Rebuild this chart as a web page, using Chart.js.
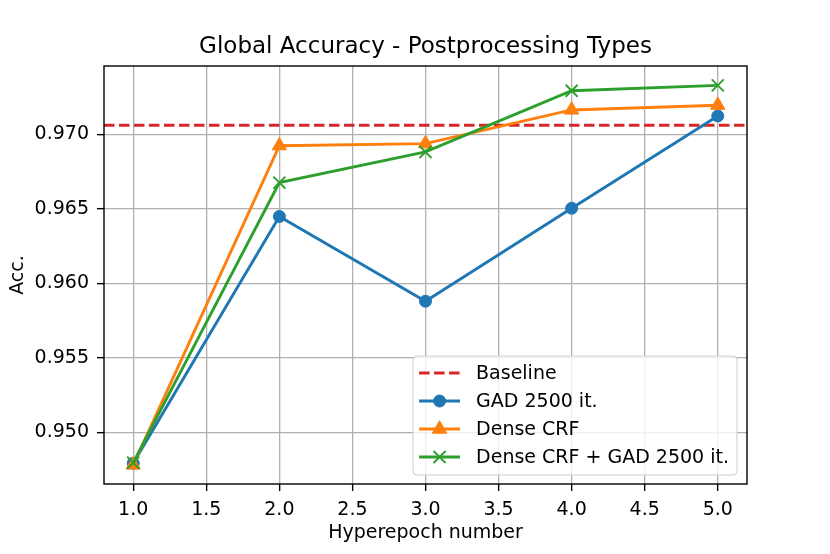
<!DOCTYPE html>
<html>
<head>
<meta charset="utf-8">
<script src="https://cdn.jsdelivr.net/npm/chart.js@4.4.1/dist/chart.umd.min.js"></script>
<style>
  html, body { margin: 0; padding: 0; background: #fff; }
  #wrap { width: 830px; height: 554px; }
</style>
</head>
<body>
<div id="wrap"><canvas id="acc-chart" width="830" height="554"></canvas></div>
<script>
// Values
const hyperepochs = [1, 2, 3, 4, 5];
const baselineAcc = 0.97060;
const gadAcc = [0.94791, 0.96448, 0.95879, 0.96503, 0.97123];
const denseCrfAcc = [0.94780, 0.96923, 0.96937, 0.97163, 0.97195];
const denseCrfGadAcc = [0.94795, 0.96675, 0.96881, 0.97292, 0.97328];

const X_MIN = 0.8, X_MAX = 5.2;
const Y_MIN = 0.94652, Y_MAX = 0.97458;

const FONT = 'DejaVu Sans';
const TITLE = 'Global Accuracy - Postprocessing Types';

const toPoints = vals => vals.map((v, i) => ({ x: hyperepochs[i], y: v }));

// Title centred over the axes, frame on all four sides, legend inside the axes
const frameAndLegend = {
    id: 'frameAndLegend',
    afterDatasetsDraw(chart) {
        const { ctx, chartArea: a } = chart;
        ctx.save();
        ctx.strokeStyle = '#000';
        ctx.lineWidth = 1.4;
        ctx.strokeRect(a.left, a.top, a.right - a.left, a.bottom - a.top);

        ctx.fillStyle = '#000';
        ctx.font = `23px ${FONT}`;
        ctx.textAlign = 'center';
        ctx.textBaseline = 'middle';
        ctx.fillText(TITLE, (a.left + a.right) / 2, 47);
        ctx.restore();
    },
    afterDraw(chart) {
        const { ctx, chartArea: a } = chart;
        const items = chart.data.datasets;
        ctx.save();
        ctx.font = `19px ${FONT}`;
        const textW = Math.max(...items.map(d => ctx.measureText(d.label).width));
        const rowH = 28;
        const w = 6 + 41 + 16 + textW + 8;
        const h = items.length * rowH + 7;
        const x0 = a.right - 10 - w;
        const y0 = a.bottom - 9 - h;

        ctx.beginPath();
        ctx.roundRect(x0, y0, w, h, 4);
        ctx.fillStyle = 'rgba(255,255,255,0.8)';
        ctx.fill();
        ctx.strokeStyle = '#cccccc';
        ctx.lineWidth = 1;
        ctx.stroke();

        items.forEach((d, i) => {
            const cy = y0 + 17 + i * rowH;
            const lx = x0 + 6;
            ctx.beginPath();
            ctx.setLineDash(d.borderDash || []);
            ctx.strokeStyle = d.borderColor;
            ctx.lineWidth = d.borderWidth;
            ctx.moveTo(lx, cy);
            ctx.lineTo(lx + 41, cy);
            ctx.stroke();
            ctx.setLineDash([]);
            if (d.pointRadius > 0) {
                ctx.fillStyle = d.backgroundColor;
                ctx.strokeStyle = d.borderColor;
                ctx.lineWidth = d.pointBorderWidth;
                Chart.helpers.drawPoint(ctx, {
                    pointStyle: d.pointStyle,
                    radius: d.pointRadius,
                    borderWidth: d.pointBorderWidth,
                    rotation: 0
                }, lx + 20.5, cy);
            }
            ctx.fillStyle = '#000';
            ctx.textBaseline = 'middle';
            ctx.textAlign = 'left';
            ctx.fillText(d.label, lx + 57, cy + 1);
        });
        ctx.restore();
    }
};

const MARKER_RADIUS = { circle: 6, triangle: 8.3, crossRot: 8.5 };

function makeSeries(label, vals, color, style, order) {
    return {
        label,
        data: toPoints(vals),
        borderColor: color,
        backgroundColor: color,
        borderWidth: 2.9,
        pointStyle: style,
        pointRadius: MARKER_RADIUS[style],
        pointHoverRadius: MARKER_RADIUS[style],
        pointBorderWidth: style === 'crossRot' ? 1.9 : 1,
        pointBorderColor: color,
        pointBackgroundColor: color,
        tension: 0,
        order
    };
}

const canvas = document.getElementById('acc-chart');
const ctx = canvas.getContext('2d');

const gridOpts = { color: '#b0b0b0', lineWidth: 1.3, tickColor: '#000', tickWidth: 1.4, tickLength: 7, drawTicks: true };

new Chart(ctx, {
    type: 'line',
    data: {
        datasets: [
            {
                label: 'Baseline',
                data: [{ x: X_MIN, y: baselineAcc }, { x: X_MAX, y: baselineAcc }],
                borderColor: '#d62728',
                backgroundColor: '#d62728',
                borderWidth: 2.9,
                borderDash: [10.5, 4.5],
                pointRadius: 0,
                order: 3
            },
            makeSeries('GAD 2500 it.', gadAcc, '#1f77b4', 'circle', 2),
            makeSeries('Dense CRF', denseCrfAcc, '#ff7f0e', 'triangle', 1),
            makeSeries('Dense CRF + GAD 2500 it.', denseCrfGadAcc, '#2ca02c', 'crossRot', 0)
        ]
    },
    options: {
        responsive: false,
        animation: false,
        devicePixelRatio: 1,
        layout: { padding: { left: 0, right: 83, top: 66, bottom: 0 } },
        plugins: {
            legend: { display: false },
            tooltip: { enabled: false },
            title: { display: false }
        },
        scales: {
            x: {
                type: 'linear',
                min: X_MIN,
                max: X_MAX,
                afterFit: s => { s.height = 70; },
                grid: gridOpts,
                border: { display: false },
                ticks: {
                    stepSize: 0.5,
                    includeBounds: false,
                    color: '#000',
                    padding: 8,
                    maxRotation: 0,
                    font: { family: FONT, size: 19 },
                    callback: v => v.toFixed(1)
                },
                title: {
                    display: true,
                    text: 'Hyperepoch number',
                    color: '#000',
                    font: { family: FONT, size: 19 },
                    padding: { top: 0, bottom: 10 }
                }
            },
            y: {
                type: 'linear',
                min: Y_MIN,
                max: Y_MAX,
                afterFit: s => { s.width = 104; },
                grid: gridOpts,
                border: { display: false },
                ticks: {
                    stepSize: 0.005,
                    includeBounds: false,
                    color: '#000',
                    padding: 8,
                    font: { family: FONT, size: 19 },
                    callback: v => v.toFixed(3)
                },
                title: {
                    display: true,
                    text: 'Acc.',
                    color: '#000',
                    font: { family: FONT, size: 19 },
                    padding: { top: 7, bottom: 0 }
                }
            }
        }
    },
    plugins: [frameAndLegend]
});
</script>
</body>
</html>
